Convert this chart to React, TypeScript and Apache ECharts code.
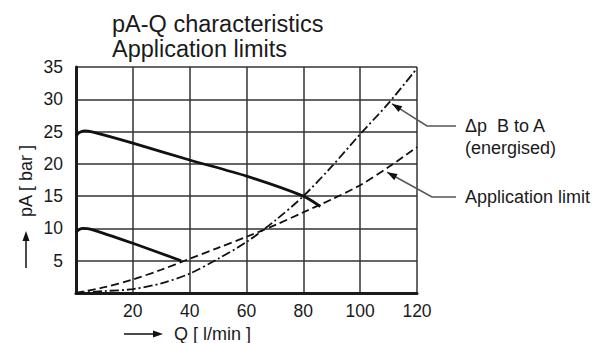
import React, { useEffect, useRef } from "react";
import * as echarts from "echarts";

const xTicks = [0, 20, 40, 60, 80, 100, 120];
const yTicks = [0, 5, 10, 15, 20, 25, 30, 35];

// pA-Q curves (Q in l/min, pA in bar)
const upperCurve: [number, number][] = [
  [0, 24.3], [1, 24.8], [3, 25.1], [6, 24.9], [20, 23.2], [40, 20.6], [60, 18.1], [80, 15], [86, 13.4],
];
const lowerCurve: [number, number][] = [
  [0, 9.4], [1, 9.8], [2.5, 10], [5, 9.9], [20, 7.7], [37, 5],
];
const applicationLimit: [number, number][] = [
  [0, 0], [10, 0.9], [20, 2.1], [30, 3.6], [40, 5.3], [50, 7], [60, 8.7], [70, 10.5], [80, 12.5], [90, 14.5], [100, 16.7], [110, 19.5], [120, 22.6],
];
const deltaPBtoA: [number, number][] = [
  [0, 0], [10, 0.3], [20, 0.6], [30, 1.5], [40, 3.0], [50, 5.3], [60, 7.9], [70, 11.2], [80, 15], [90, 19.6], [100, 24.6], [110, 29.4], [120, 34.8],
];

const titleLines = ["pA-Q characteristics", "Application limits"];
const annot1Lines = ["\u0394p  B to A", "(energised)"];
const annot2Text = "Application limit";
const arrowTip1: [number, number] = [111.2, 29.3];
const arrowTip2: [number, number] = [109.5, 18.7];

const FONT = "'Liberation Sans', Arial, Helvetica, sans-serif";
const INK = "#1a1a1a";

function arrowHead(tip: number[], from: number[], len = 10, half = 3.5) {
  const dx = tip[0] - from[0];
  const dy = tip[1] - from[1];
  const d = Math.hypot(dx, dy) || 1;
  const ux = dx / d, uy = dy / d;
  const bx = tip[0] - ux * len, by = tip[1] - uy * len;
  return [
    [tip[0], tip[1]],
    [bx - uy * half, by + ux * half],
    [bx + uy * half, by - ux * half],
  ];
}

export default function App() {
  const ref = useRef<HTMLDivElement>(null);
  useEffect(() => {
    document.body.style.margin = "0";
    const chart = echarts.init(ref.current!, null, { renderer: "svg" });
    chart.setOption({
      animation: false,
      backgroundColor: "#ffffff",
      title: {
        text: titleLines.join("\n"),
        left: 107,
        top: 6,
        textStyle: { fontFamily: FONT, fontSize: 23.5, fontWeight: "normal", color: INK, lineHeight: 25 },
      },
      grid: { left: 76, right: 181, top: 67, bottom: 50, containLabel: false },
      xAxis: {
        type: "value",
        min: xTicks[0],
        max: xTicks[xTicks.length - 1],
        interval: 20,
        axisLine: { show: true, onZero: false, lineStyle: { color: INK, width: 3 } },
        axisTick: { show: false },
        axisLabel: {
          formatter: (v: number) => (v === 0 ? "" : String(v)),
          fontFamily: FONT, fontSize: 17.5, color: INK, margin: 9,
        },
        splitLine: { show: true, lineStyle: { color: "#333", width: 1.5 } },
      },
      yAxis: {
        type: "value",
        min: yTicks[0],
        max: yTicks[yTicks.length - 1],
        interval: 5,
        axisLine: { show: true, onZero: false, lineStyle: { color: INK, width: 3 } },
        axisTick: { show: false },
        axisLabel: {
          formatter: (v: number) => (v === 0 ? "" : String(v)),
          fontFamily: FONT, fontSize: 17.5, color: INK, margin: 13,
        },
        splitLine: { show: true, lineStyle: { color: "#333", width: 1.5 } },
      },
      series: [
        {
          type: "line", data: upperCurve, smooth: 0.25, symbol: "none",
          lineStyle: { color: "#111", width: 2.8 }, z: 5,
        },
        {
          type: "line", data: lowerCurve, smooth: 0.25, symbol: "none",
          lineStyle: { color: "#111", width: 2.8 }, z: 5,
        },
        {
          type: "line", data: applicationLimit, smooth: 0.3, symbol: "none",
          lineStyle: { color: "#111", width: 1.8, type: [8, 4] }, z: 4,
        },
        {
          type: "line", data: deltaPBtoA, smooth: 0.3, symbol: "none",
          lineStyle: { color: "#111", width: 1.8, type: [9, 3, 2, 3] }, z: 4,
        },
      ],
    });

    const tip1 = chart.convertToPixel({ gridIndex: 0 }, arrowTip1) as number[];
    const tip2 = chart.convertToPixel({ gridIndex: 0 }, arrowTip2) as number[];
    const elbow1 = [427, 126];
    const elbow2 = [432, 197];
    const lineStyle = { stroke: "#555", lineWidth: 1.5, fill: null };
    const textStyle = (text: string, x: number, y: number, size = 18) => ({
      type: "text",
      x, y,
      style: { text, fontFamily: FONT, fontSize: size, fill: INK, textVerticalAlign: "middle", verticalAlign: "middle" },
    });

    chart.setOption({
      graphic: [
        { type: "polyline", shape: { points: [tip1, elbow1, [456, 126]] }, style: lineStyle },
        { type: "polygon", shape: { points: arrowHead(tip1, elbow1) }, style: { fill: "#111" } },
        { type: "polyline", shape: { points: [tip2, elbow2, [456, 197]] }, style: lineStyle },
        { type: "polygon", shape: { points: arrowHead(tip2, elbow2) }, style: { fill: "#111" } },
        textStyle(annot1Lines[0], 465, 126),
        textStyle(annot1Lines[1], 465, 148),
        textStyle(annot2Text, 465, 197),
        // x axis name with arrow
        textStyle("Q [ l/min ]", 174, 334, 18),
        { type: "line", shape: { x1: 124, y1: 334, x2: 155, y2: 334 }, style: { stroke: "#111", lineWidth: 1.5 } },
        { type: "polygon", shape: { points: arrowHead([163, 334], [124, 334], 10, 3.5) }, style: { fill: "#111" } },
        // y axis name with arrow
        {
          type: "text",
          x: 26, y: 181, rotation: Math.PI / 2,
          style: { text: "pA [ bar ]", fontFamily: FONT, fontSize: 18, fill: INK, align: "center", verticalAlign: "middle" },
        },
        { type: "line", shape: { x1: 26, y1: 268, x2: 26, y2: 240 }, style: { stroke: "#111", lineWidth: 1.5 } },
        { type: "polygon", shape: { points: arrowHead([26, 231], [26, 268], 10, 3.5) }, style: { fill: "#111" } },
      ],
    });

    return () => chart.dispose();
  }, []);
  return <div ref={ref} style={{ width: 598, height: 343 }} />;
}
